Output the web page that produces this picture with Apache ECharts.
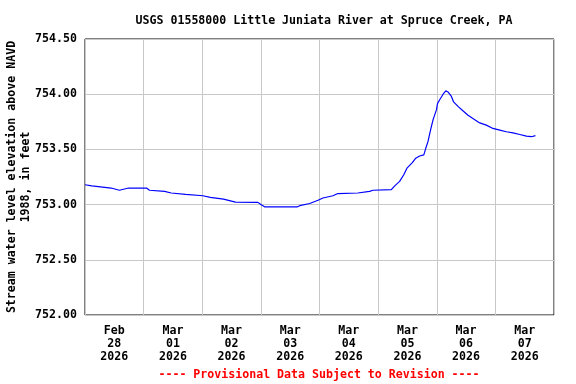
<!DOCTYPE html>
<html><head><meta charset="utf-8">
<script src="https://cdn.jsdelivr.net/npm/echarts@6/dist/echarts.min.js"></script>
<style>html,body{margin:0;padding:0;background:#fff}#c{width:576px;height:384px}</style>
</head><body><div id="c"></div>
<script>
// hours since 2026-02-28 00:00
const hours = [0, 2.8, 10.7, 14.1, 17.8, 25.2, 25.4, 25.8, 26.4, 32.6, 35.3, 41.2, 48.3, 51.3, 56.7, 61.6, 70.8, 72, 73.5, 87, 87.9, 92, 95.4, 97.4, 101.5, 103.5, 111.7, 116.5, 117.9, 125.4, 126.8, 128.8, 130.5, 131.8, 134, 135.4, 137, 138.7, 139.5, 140.4, 141.5, 142.5, 143.9, 144.3, 145.2, 146.6, 147.7, 148.6, 150, 150.9, 152.7, 154.7, 156.8, 158.8, 161.6, 164.3, 167, 169.8, 172.5, 175.2, 178, 180.7, 182.8, 184.4];
const levels = [753.18, 753.17, 753.15, 753.13, 753.15, 753.15, 753.14, 753.15, 753.13, 753.12, 753.105, 753.093, 753.08, 753.066, 753.05, 753.023, 753.02, 753.0, 752.98, 752.98, 752.99, 753.01, 753.04, 753.06, 753.08, 753.10, 753.105, 753.12, 753.13, 753.135, 753.17, 753.21, 753.27, 753.33, 753.38, 753.42, 753.44, 753.45, 753.51, 753.57, 753.68, 753.77, 753.86, 753.915, 753.95, 754.0, 754.03, 754.02, 753.98, 753.93, 753.89, 753.85, 753.81, 753.78, 753.74, 753.72, 753.69, 753.675, 753.66, 753.65, 753.635, 753.62, 753.615, 753.625];
const dayLabels = ['Feb\n28\n2026', 'Mar\n01\n2026', 'Mar\n02\n2026', 'Mar\n03\n2026', 'Mar\n04\n2026', 'Mar\n05\n2026', 'Mar\n06\n2026', 'Mar\n07\n2026'];
const titleText = 'USGS 01558000 Little Juniata River at Spruce Creek, PA';
const yName = 'Stream water level elevation above NAVD\n1988, in feet';
const footer = '---- Provisional Data Subject to Revision ----';

const FONT = '"DejaVu Sans Mono", monospace';
const chart = echarts.init(document.getElementById('c'), null, {renderer: 'canvas'});
chart.setOption({
  animation: false,
  backgroundColor: '#fff',
  title: {
    text: titleText, left: 319, top: 10, textAlign: 'center',
    textStyle: {fontFamily: FONT, fontWeight: 'bold', fontSize: 11.6, color: '#000'}
  },
  graphic: [{
    type: 'text', x: 319, y: 375,
    style: {text: footer, fill: '#ff0000', font: 'bold 11.6px "DejaVu Sans Mono", monospace', align: 'center', verticalAlign: 'middle'}
  }],
  grid: {left: 85, right: 22, top: 39, bottom: 69, show: true, borderColor: '#000', borderWidth: 1,
         backgroundColor: 'transparent', containLabel: false, outerBoundsMode: 'none'},
  xAxis: [{
    type: 'value', min: 0, max: 192, interval: 24,
    axisLine: {show: false}, axisTick: {show: false}, axisLabel: {show: false},
    splitLine: {show: true, lineStyle: {color: '#c8c8c8', width: 1}}
  }, {
    type: 'category', data: dayLabels, position: 'bottom', boundaryGap: true,
    axisLine: {show: false}, axisTick: {show: false}, splitLine: {show: false},
    axisLabel: {margin: 9, lineHeight: 13, fontFamily: FONT, fontWeight: 'bold', fontSize: 11.6, color: '#000', interval: 0}
  }],
  yAxis: {
    type: 'value', min: 752, max: 754.5, interval: 0.5,
    name: yName, nameLocation: 'middle', nameRotate: 90, nameGap: 52, nameMoveOverlap: false,
    nameTextStyle: {fontFamily: FONT, fontWeight: 'bold', fontSize: 11.6, color: '#000', lineHeight: 14, align: 'center'},
    axisLine: {show: false}, axisTick: {show: false},
    axisLabel: {margin: 8, formatter: v => v.toFixed(2), fontFamily: FONT, fontWeight: 'bold', fontSize: 11.6, color: '#000'},
    splitLine: {show: true, lineStyle: {color: '#c8c8c8', width: 1}}
  },
  series: [{
    type: 'line', xAxisIndex: 0, data: hours.map((h, i) => [h, levels[i]]),
    showSymbol: false, lineStyle: {color: '#0000ff', width: 1.2}, z: 3
  }]
});
</script></body></html>
